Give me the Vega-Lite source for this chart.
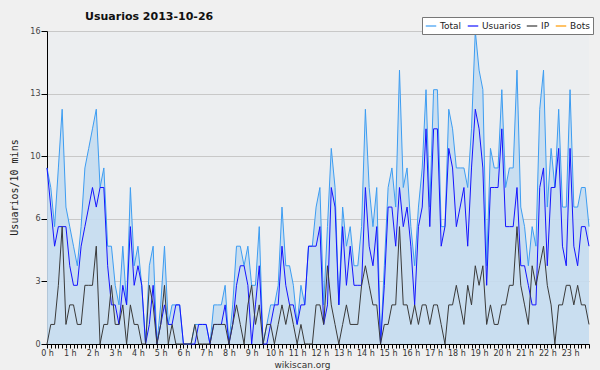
{
"$schema": "https://vega.github.io/schema/vega-lite/v6.json",
"width": 542, "height": 313,
"autosize": {"type": "none"},
"padding": {"left": 47, "top": 31, "right": 11, "bottom": 26},
"background": "#f0f0f0",
"config": {"view": {"stroke": null, "fill": "#eceef0"}, "font": "DejaVu Sans"},
"title": {"text": "Usuarios  2013-10-26", "anchor": "start", "frame": "group", "dx": 38, "offset": -5, "font": "DejaVu Sans", "fontSize": 11, "fontWeight": "bold", "color": "#111111"},
"data": {"values": [
{"t":0,"total":9,"usuarios":9,"ip":0},{"t":1,"total":8,"usuarios":7,"ip":1},{"t":2,"total":6,"usuarios":5,"ip":1},{"t":3,"total":9,"usuarios":6,"ip":3},{"t":4,"total":12,"usuarios":6,"ip":6},{"t":5,"total":7,"usuarios":6,"ip":1},{"t":6,"total":6,"usuarios":4,"ip":2},{"t":7,"total":5,"usuarios":3,"ip":2},{"t":8,"total":4,"usuarios":3,"ip":1},{"t":9,"total":6,"usuarios":5,"ip":1},
{"t":10,"total":9,"usuarios":6,"ip":3},{"t":11,"total":10,"usuarios":7,"ip":3},{"t":12,"total":11,"usuarios":8,"ip":3},{"t":13,"total":12,"usuarios":7,"ip":5},{"t":14,"total":8,"usuarios":8,"ip":0},{"t":15,"total":9,"usuarios":8,"ip":1},{"t":16,"total":5,"usuarios":4,"ip":1},{"t":17,"total":5,"usuarios":2,"ip":3},{"t":18,"total":3,"usuarios":2,"ip":1},{"t":19,"total":2,"usuarios":1,"ip":1},
{"t":20,"total":5,"usuarios":3,"ip":2},{"t":21,"total":2,"usuarios":2,"ip":0},{"t":22,"total":8,"usuarios":6,"ip":2},{"t":23,"total":4,"usuarios":3,"ip":1},{"t":24,"total":5,"usuarios":4,"ip":1},{"t":25,"total":3,"usuarios":3,"ip":0},{"t":26,"total":0,"usuarios":0,"ip":0},{"t":27,"total":4,"usuarios":1,"ip":3},{"t":28,"total":5,"usuarios":3,"ip":2},{"t":29,"total":0,"usuarios":0,"ip":0},
{"t":30,"total":2,"usuarios":1,"ip":1},{"t":31,"total":5,"usuarios":2,"ip":3},{"t":32,"total":1,"usuarios":1,"ip":0},{"t":33,"total":2,"usuarios":1,"ip":1},{"t":34,"total":2,"usuarios":2,"ip":0},{"t":35,"total":2,"usuarios":2,"ip":0},{"t":36,"total":0,"usuarios":0,"ip":0},{"t":37,"total":0,"usuarios":0,"ip":0},{"t":38,"total":0,"usuarios":0,"ip":0},{"t":39,"total":1,"usuarios":0,"ip":1},
{"t":40,"total":1,"usuarios":1,"ip":0},{"t":41,"total":1,"usuarios":1,"ip":0},{"t":42,"total":1,"usuarios":1,"ip":0},{"t":43,"total":0,"usuarios":0,"ip":0},{"t":44,"total":2,"usuarios":1,"ip":1},{"t":45,"total":2,"usuarios":1,"ip":1},{"t":46,"total":2,"usuarios":1,"ip":1},{"t":47,"total":3,"usuarios":2,"ip":1},{"t":48,"total":0,"usuarios":0,"ip":0},{"t":49,"total":2,"usuarios":1,"ip":1},
{"t":50,"total":5,"usuarios":3,"ip":2},{"t":51,"total":5,"usuarios":4,"ip":1},{"t":52,"total":4,"usuarios":4,"ip":0},{"t":53,"total":5,"usuarios":3,"ip":2},{"t":54,"total":3,"usuarios":0,"ip":3},{"t":55,"total":3,"usuarios":2,"ip":1},{"t":56,"total":6,"usuarios":4,"ip":2},{"t":57,"total":0,"usuarios":0,"ip":0},{"t":58,"total":1,"usuarios":0,"ip":1},{"t":59,"total":2,"usuarios":1,"ip":1},
{"t":60,"total":2,"usuarios":2,"ip":0},{"t":61,"total":3,"usuarios":2,"ip":1},{"t":62,"total":7,"usuarios":5,"ip":2},{"t":63,"total":4,"usuarios":3,"ip":1},{"t":64,"total":4,"usuarios":2,"ip":2},{"t":65,"total":3,"usuarios":2,"ip":1},{"t":66,"total":1,"usuarios":1,"ip":0},{"t":67,"total":3,"usuarios":2,"ip":1},{"t":68,"total":2,"usuarios":2,"ip":0},{"t":69,"total":5,"usuarios":5,"ip":0},
{"t":70,"total":5,"usuarios":5,"ip":0},{"t":71,"total":7,"usuarios":5,"ip":2},{"t":72,"total":8,"usuarios":6,"ip":2},{"t":73,"total":2,"usuarios":1,"ip":1},{"t":74,"total":6,"usuarios":2,"ip":4},{"t":75,"total":10,"usuarios":8,"ip":2},{"t":76,"total":8,"usuarios":7,"ip":1},{"t":77,"total":2,"usuarios":2,"ip":0},{"t":78,"total":7,"usuarios":6,"ip":1},{"t":79,"total":5,"usuarios":3,"ip":2},
{"t":80,"total":6,"usuarios":5,"ip":1},{"t":81,"total":4,"usuarios":3,"ip":1},{"t":82,"total":4,"usuarios":3,"ip":1},{"t":83,"total":6,"usuarios":3,"ip":3},{"t":84,"total":12,"usuarios":8,"ip":4},{"t":85,"total":8,"usuarios":5,"ip":3},{"t":86,"total":6,"usuarios":4,"ip":2},{"t":87,"total":8,"usuarios":6,"ip":2},{"t":88,"total":0,"usuarios":0,"ip":0},{"t":89,"total":4,"usuarios":3,"ip":1},
{"t":90,"total":8,"usuarios":7,"ip":1},{"t":91,"total":9,"usuarios":7,"ip":2},{"t":92,"total":7,"usuarios":5,"ip":2},{"t":93,"total":14,"usuarios":8,"ip":6},{"t":94,"total":8,"usuarios":6,"ip":2},{"t":95,"total":9,"usuarios":7,"ip":2},{"t":96,"total":6,"usuarios":5,"ip":1},{"t":97,"total":4,"usuarios":2,"ip":2},{"t":98,"total":7,"usuarios":6,"ip":1},{"t":99,"total":9,"usuarios":7,"ip":2},
{"t":100,"total":13,"usuarios":11,"ip":2},{"t":101,"total":7,"usuarios":6,"ip":1},{"t":102,"total":13,"usuarios":11,"ip":2},{"t":103,"total":13,"usuarios":11,"ip":2},{"t":104,"total":6,"usuarios":5,"ip":1},{"t":105,"total":6,"usuarios":6,"ip":0},{"t":106,"total":12,"usuarios":10,"ip":2},{"t":107,"total":11,"usuarios":9,"ip":2},{"t":108,"total":9,"usuarios":6,"ip":3},{"t":109,"total":9,"usuarios":7,"ip":2},
{"t":110,"total":9,"usuarios":8,"ip":1},{"t":111,"total":8,"usuarios":5,"ip":3},{"t":112,"total":11,"usuarios":9,"ip":2},{"t":113,"total":16,"usuarios":12,"ip":4},{"t":114,"total":14,"usuarios":11,"ip":3},{"t":115,"total":13,"usuarios":9,"ip":4},{"t":116,"total":4,"usuarios":3,"ip":1},{"t":117,"total":10,"usuarios":8,"ip":2},{"t":118,"total":9,"usuarios":8,"ip":1},{"t":119,"total":9,"usuarios":8,"ip":1},
{"t":120,"total":13,"usuarios":11,"ip":2},{"t":121,"total":8,"usuarios":6,"ip":2},{"t":122,"total":9,"usuarios":6,"ip":3},{"t":123,"total":9,"usuarios":6,"ip":3},{"t":124,"total":14,"usuarios":8,"ip":6},{"t":125,"total":7,"usuarios":4,"ip":3},{"t":126,"total":6,"usuarios":4,"ip":2},{"t":127,"total":4,"usuarios":3,"ip":1},{"t":128,"total":6,"usuarios":2,"ip":4},{"t":129,"total":5,"usuarios":2,"ip":3},
{"t":130,"total":12,"usuarios":8,"ip":4},{"t":131,"total":14,"usuarios":9,"ip":5},{"t":132,"total":7,"usuarios":4,"ip":3},{"t":133,"total":10,"usuarios":8,"ip":2},{"t":134,"total":8,"usuarios":8,"ip":0},{"t":135,"total":12,"usuarios":10,"ip":2},{"t":136,"total":7,"usuarios":5,"ip":2},{"t":137,"total":7,"usuarios":4,"ip":3},{"t":138,"total":13,"usuarios":10,"ip":3},{"t":139,"total":7,"usuarios":5,"ip":2},
{"t":140,"total":7,"usuarios":4,"ip":3},{"t":141,"total":8,"usuarios":6,"ip":2},{"t":142,"total":8,"usuarios":6,"ip":2},{"t":143,"total":6,"usuarios":5,"ip":1}
]},
"encoding": {
  "x": {"field": "t", "type": "quantitative",
    "scale": {"domain": [0, 143], "nice": false, "zero": false},
    "axis": {
      "values": [0,1,2,3,4,5,6,7,8,9,10,11,12,13,14,15,16,17,18,19,20,21,22,23,24,25,26,27,28,29,30,31,32,33,34,35,36,37,38,39,40,41,42,43,44,45,46,47,48,49,50,51,52,53,54,55,56,57,58,59,60,61,62,63,64,65,66,67,68,69,70,71,72,73,74,75,76,77,78,79,80,81,82,83,84,85,86,87,88,89,90,91,92,93,94,95,96,97,98,99,100,101,102,103,104,105,106,107,108,109,110,111,112,113,114,115,116,117,118,119,120,121,122,123,124,125,126,127,128,129,130,131,132,133,134,135,136,137,138,139,140,141,142,143],
      "labelExpr": "datum.value % 6 == 0 ? (datum.value / 6) + ' h' : ''",
      "labelOverlap": false, "labelFlush": false, "labelBound": false,
      "tickSize": 4, "tickColor": "#000000", "domainColor": "#000000",
      "labelFontSize": 8, "labelColor": "#333333", "labelPadding": 1, "labelFont": "DejaVu Sans",
      "grid": false,
      "title": "wikiscan.org", "titleFontSize": 9, "titleFontWeight": "normal", "titleColor": "#333333", "titleFont": "DejaVu Sans", "titlePadding": 3, "titleX": 255
    }
  }
},
"layer": [
  {"mark": {"type": "area", "color": "#c5dcf0", "opacity": 0.9},
   "encoding": {"y": {"field": "total", "type": "quantitative",
      "scale": {"domain": [0, 16], "nice": false, "zero": true},
      "axis": {
        "values": [0,0.8,1.6,2.4,3.2,4,4.8,5.6,6.4,7.2,8,8.8,9.6,10.4,11.2,12,12.8,13.6,14.4,15.2,16],
        "labelExpr": "abs(datum.value/3.2 - round(datum.value/3.2)) < 0.01 ? format(round(datum.value), 'd') : ''",
        "labelOverlap": false, "labelFontSize": 8, "labelColor": "#444444", "labelPadding": 1, "labelFont": "DejaVu Sans",
        "tickSize": {"condition": {"test": "abs(datum.value/3.2 - round(datum.value/3.2)) < 0.01", "value": 6}, "value": 3},
        "tickColor": "#000000", "domainColor": "#000000",
        "grid": true, "gridColor": "#c8c8c8",
        "gridOpacity": {"condition": {"test": "abs(datum.value/3.2 - round(datum.value/3.2)) < 0.01 && datum.value > 0", "value": 1}, "value": 0},
        "title": "Usuarios/10 mins", "titleFont": "DejaVu Sans Mono", "titleFontSize": 10, "titleFontWeight": "normal", "titleColor": "#222222",
        "titleX": -33, "titleY": 156, "titleAlign": "center", "titleBaseline": "middle", "titleAngle": -90
      }}}},
  {"mark": {"type": "line", "strokeWidth": 1},
   "encoding": {"y": {"field": "total", "type": "quantitative"},
     "color": {"datum": "Total", "type": "nominal",
       "scale": {"domain": ["Total", "Usuarios", "IP", "Bots"], "range": ["#3d9df2", "#1414ff", "#3a3a3a", "#ff9900"]},
       "legend": {"orient": "none", "legendX": 375, "legendY": -14, "direction": "horizontal", "title": null,
         "fillColor": "#ffffff", "strokeColor": "#777777", "padding": 3,
         "symbolType": "stroke", "symbolSize": 110, "symbolStrokeWidth": 1.2,
         "labelFontSize": 9, "labelFont": "DejaVu Sans", "labelColor": "#222222", "labelOffset": 3, "columnPadding": 3}}}},
  {"mark": {"type": "line", "strokeWidth": 1},
   "encoding": {"y": {"field": "usuarios", "type": "quantitative"},
     "color": {"datum": "Usuarios", "type": "nominal"}}},
  {"mark": {"type": "line", "strokeWidth": 1},
   "encoding": {"y": {"field": "ip", "type": "quantitative"},
     "color": {"datum": "IP", "type": "nominal"}}},
  {"data": {"values": [{"note": "CC BY-SA 3.0"}]},
   "mark": {"type": "text", "align": "right", "baseline": "middle", "dy": 18, "dx": 4, "fontSize": 7, "font": "DejaVu Sans", "color": "#444444"},
   "encoding": {"x": {"datum": 143, "type": "quantitative"}, "y": {"datum": 0, "type": "quantitative"}, "text": {"field": "note"}}}
]
}
